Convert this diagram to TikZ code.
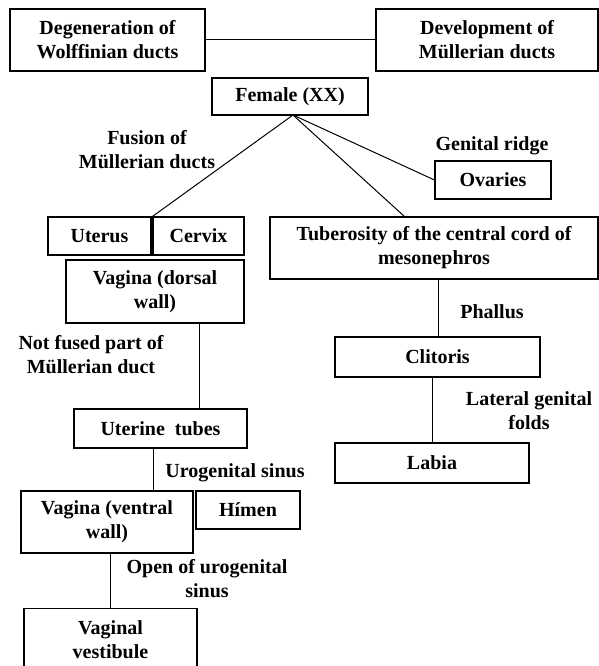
\documentclass[tikz,border=0pt]{standalone}
\usepackage{fontspec}
\setmainfont{Liberation Serif}
\begin{document}
\begin{tikzpicture}[x=1pt,y=-1pt,
  every node/.style={font=\fontsize{20}{24}\selectfont\bfseries, inner sep=0pt, align=center},
  box/.style={draw, line width=1.1pt},
  conn/.style={line width=1pt}]
\useasboundingbox (0,0) rectangle (599,666);
\fill[white] (0,0) rectangle (599,666);
% boxes: centers and sizes from corners
\node[box, minimum width=195, minimum height=62] (deg) at (107.5,40) {Degeneration of\\Wolffinian ducts};
\node[box, minimum width=222, minimum height=62] (dev) at (487,40) {Development of\\Müllerian ducts};
\node[box, minimum width=156, minimum height=37] (fem) at (290,96.5) {Female (XX)};
\node[box, minimum width=116, minimum height=38] (ova) at (493,180) {Ovaries};
\node[box, minimum width=103, minimum height=38] (ute) at (99.5,236) {Uterus};
\node[box, minimum width=91, minimum height=38] (cer) at (198.5,236) {Cervix};
\node[box, minimum width=178, minimum height=63] (dors) at (155,291.5) {Vagina (dorsal\\wall)};
\node[box, minimum width=328, minimum height=62] (tub) at (434,248) {Tuberosity of the central cord of\\mesonephros};
\node[box, minimum width=205, minimum height=40] (clit) at (437.5,357) {Clitoris};
\node[box, minimum width=194, minimum height=40] (lab) at (432,463) {Labia};
\node[box, minimum width=173, minimum height=39] (tubes) at (160.5,428.5) {Uterine\ \ tubes};
\node[box, minimum width=172, minimum height=62] (vent) at (107,522) {Vagina (ventral\\wall)};
\node[box, minimum width=104, minimum height=38] (him) at (248,510) {Hímen};
\node[box, minimum width=173, minimum height=62, anchor=north] (vest) at (110.5,608) {Vaginal\\vestibule};
% labels
\node (lfus) at (147,150) {Fusion of\\Müllerian ducts};
\node (lgen) at (492,146) {Genital ridge};
\node (lnot) at (91,355) {Not fused part of\\Müllerian duct};
\node (lpha) at (492,312) {Phallus};
\node (llat) at (529,410.5) {Lateral genital\\folds};
\node (luro) at (235,473) {Urogenital sinus};
\node (lope) at (207,579) {Open of urogenital\\sinus};
% coordinates
\coordinate (fp) at (293,115);
\coordinate (tubtop) at (405,217);
\coordinate (xa) at (199,0);
\coordinate (xb) at (438,0);
\coordinate (xc) at (153,0);
% connectors
\draw[conn] (deg.east) -- (dev.west);
\draw[conn] (fp) -- (cer.north west);
\draw[conn] (fp) -- (tubtop);
\draw[conn] (fp) -- (ova.west);
\draw[conn] (dors.south -| xa) -- (tubes.north -| xa);
\draw[conn] (tub.south -| xb) -- (clit.north -| xb);
\draw[conn] (clit.south -| lab.north) -- (lab.north);
\draw[conn] (tubes.south -| xc) -- (vent.north -| xc);
\draw[conn] (vent.south -| vest.north) -- (vest.north);
\end{tikzpicture}
\end{document}
